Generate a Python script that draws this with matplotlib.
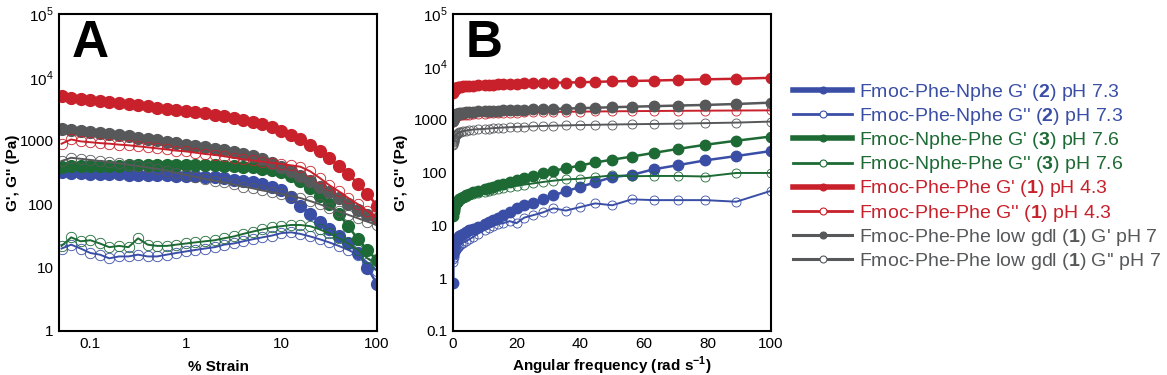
import matplotlib
matplotlib.use("Agg")
import matplotlib.pyplot as plt
from matplotlib.lines import Line2D

plt.rcParams['font.family'] = ['Liberation Sans', 'DejaVu Sans']
plt.rcParams['mathtext.fontset'] = 'custom'
plt.rcParams['mathtext.rm'] = 'Liberation Sans'
plt.rcParams['mathtext.bf'] = 'Liberation Sans:bold'

BLUE = '#3a4ea6'
GREEN = '#1d6a35'
RED = '#c8212b'
GRAY = '#57585a'

# ---- Panel A: strain sweep ----
strain = [0.05, 0.063, 0.079, 0.1, 0.126, 0.158, 0.2, 0.251, 0.316, 0.398,
          0.501, 0.631, 0.794, 1.0, 1.26, 1.58, 2.0, 2.51, 3.16, 3.98,
          5.01, 6.31, 7.94, 10.0, 12.6, 15.8, 20.0, 25.1, 31.6, 39.8,
          50.1, 63.1, 79.4, 100.0]

a_blue_gp = [320, 310, 305, 300, 300, 295, 295, 290, 290, 290,
             285, 285, 280, 280, 275, 270, 265, 255, 245, 235,
             225, 210, 190, 165, 130, 95, 70, 52, 40, 31,
             24, 17, 10, 5.5]
a_blue_gpp = [20, 23, 20, 17, 16, 14, 15, 15, 16, 15,
              15, 16, 17, 18, 19, 20, 21, 23, 24, 26,
              28, 30, 32, 35, 36, 34, 31, 28, 25, 22,
              19, 16, 12, 9]
a_green_gp = [390, 400, 400, 400, 405, 405, 405, 410, 410, 410,
              410, 410, 410, 410, 410, 410, 408, 405, 400, 392,
              380, 365, 345, 320, 280, 230, 180, 135, 100, 70,
              45, 28, 19, 13]
a_green_gpp = [22, 30, 26, 27, 24, 21, 22, 21, 29, 23,
               22, 22, 23, 24, 25, 26, 27, 29, 31, 34,
               37, 40, 43, 45, 47, 47, 45, 40, 35, 29,
               24, 19, 14, 11]
a_red_gp = [5000, 4800, 4600, 4400, 4250, 4100, 3950, 3800, 3650, 3500,
            3350, 3200, 3050, 2950, 2800, 2700, 2550, 2450, 2300, 2150,
            2000, 1850, 1650, 1450, 1250, 1050, 850, 680, 530, 400,
            300, 210, 145, 95]
a_red_gpp = [900, 1050, 980, 950, 920, 900, 870, 850, 820, 790,
             760, 730, 700, 680, 650, 620, 600, 570, 540, 510,
             490, 470, 450, 430, 410, 390, 330, 260, 200, 160,
             125, 100, 78, 60]
a_gray_gp = [1550, 1500, 1450, 1380, 1320, 1270, 1220, 1170, 1120, 1070,
             1020, 970, 920, 870, 830, 790, 750, 710, 670, 620,
             570, 510, 450, 390, 330, 280, 230, 190, 155, 125,
             100, 82, 68, 58]
a_gray_gpp = [480, 540, 520, 500, 480, 460, 440, 420, 400, 380,
              360, 340, 310, 290, 270, 250, 235, 220, 205, 190,
              178, 165, 155, 145, 135, 125, 112, 100, 88, 77,
              68, 60, 53, 47]

# ---- Panel B: frequency sweep ----
freq = [0.1, 0.126, 0.158, 0.2, 0.251, 0.316, 0.398, 0.501, 0.631, 0.794,
        1.0, 1.26, 1.58, 2.0, 2.51, 3.16, 3.98, 5.01, 6.31, 7.94,
        10.0, 11.2, 12.6, 14.1, 15.8, 17.8, 20.0, 22.4, 25.1, 28.2,
        31.6, 35.5, 39.8, 44.7, 50.1, 56.2, 63.1, 70.8, 79.4, 89.1, 100.0]

b_blue_gp = [0.8, 3.0, 4.0, 4.5, 4.8, 5.0, 5.2, 5.0, 4.8, 5.0,
             5.3, 5.5, 5.8, 6.2, 6.6, 7.0, 7.5, 8.0, 8.7, 9.5,
             10.5, 11.5, 12.5, 14, 16, 18, 21, 24, 27, 31,
             37, 44, 53, 65, 82, 90, 115, 138, 170, 205, 255]
b_blue_gpp = [2.0, 2.3, 2.5, 2.7, 2.9, 3.0, 3.1, 3.2, 3.3, 3.4,
              3.5, 3.7, 3.9, 4.1, 4.4, 4.7, 5.0, 5.4, 6.0, 7.0,
              8.2, 9.0, 9.8, 10.5, 11.0, 12.0, 11.0, 14.0, 15.5, 17.5,
              21, 19, 22, 26, 24, 31, 30, 30, 30, 28, 45]
b_green_gp = [15, 17, 19, 20, 21, 22, 23, 24, 25, 26,
              27, 28, 29, 31, 33, 35, 37, 39, 42, 45,
              48, 51, 54, 57, 60, 66, 72, 78, 86, 96,
              108, 120, 135, 155, 175, 200, 235, 280, 335, 400, 480]
b_green_gpp = [16, 18, 19, 20, 21, 22, 23, 24, 25, 26,
               27, 28, 29, 30, 32, 33, 35, 37, 39, 41,
               43, 45, 47, 49, 51, 54, 56, 59, 62, 66,
               70, 74, 76, 82, 88, 85, 86, 86, 84, 98, 98]
b_red_gp = [3200, 3400, 3500, 3600, 3700, 3750, 3800, 3850, 3900, 3950,
            4000, 4050, 4100, 4150, 4200, 4250, 4300, 4350, 4400, 4450,
            4500, 4550, 4600, 4650, 4700, 4750, 4800, 4850, 4900, 4950,
            5000, 5050, 5100, 5200, 5300, 5400, 5500, 5650, 5800, 5950, 6200]
b_red_gpp = [900, 950, 980, 1000, 1020, 1040, 1060, 1080, 1100, 1120,
             1140, 1160, 1180, 1200, 1210, 1220, 1240, 1250, 1260, 1280,
             1300, 1310, 1320, 1330, 1340, 1350, 1360, 1370, 1380, 1390,
             1400, 1410, 1420, 1430, 1440, 1450, 1460, 1470, 1480, 1490, 1500]
b_gray_gp = [950, 1000, 1050, 1080, 1110, 1140, 1170, 1200, 1220, 1240,
             1260, 1280, 1300, 1320, 1340, 1360, 1380, 1400, 1420, 1440,
             1450, 1460, 1470, 1480, 1500, 1510, 1520, 1540, 1560, 1580,
             1600, 1620, 1650, 1680, 1720, 1760, 1800, 1850, 1900, 1980, 2100]
b_gray_gpp = [330, 350, 370, 390, 410, 430, 450, 470, 490, 505,
              520, 540, 560, 575, 590, 605, 620, 635, 650, 660,
              670, 680, 690, 700, 710, 720, 730, 740, 750, 760,
              770, 780, 790, 800, 810, 820, 830, 840, 860, 880, 920]

labels = [
    r"Fmoc-Phe-Nphe G' ($\mathbf{2}$) pH 7.3",
    r"Fmoc-Phe-Nphe G'' ($\mathbf{2}$) pH 7.3",
    r"Fmoc-Nphe-Phe G' ($\mathbf{3}$) pH 7.6",
    r"Fmoc-Nphe-Phe G'' ($\mathbf{3}$) pH 7.6",
    r"Fmoc-Phe-Phe G' ($\mathbf{1}$) pH 4.3",
    r"Fmoc-Phe-Phe G'' ($\mathbf{1}$) pH 4.3",
    r"Fmoc-Phe-Phe low gdl ($\mathbf{1}$) G' pH 7",
    r"Fmoc-Phe-Phe low gdl ($\mathbf{1}$) G'' pH 7",
]
legend_colors = [BLUE, BLUE, GREEN, GREEN, RED, RED, GRAY, GRAY]
legend_filled = [True, False, True, False, True, False, True, False]
legend_lw = [4, 2, 4, 2, 4, 2, 2.2, 2.2]

fig = plt.figure(figsize=(11.67, 3.75), dpi=100)
axA = fig.add_axes([59 / 1167, 44 / 375, 318 / 1167, 317 / 375])
axB = fig.add_axes([453 / 1167, 44 / 375, 318 / 1167, 317 / 375])


def draw(ax, x, gp, gpp, color, ms_f, ms_o):
    ax.plot(x, gpp, color=color, lw=1.4, marker='o', ms=ms_o,
            mfc='none', mec=color, mew=0.6)
    ax.plot(x, gp, color=color, lw=1.8, marker='o', ms=ms_f,
            mfc=color, mec=color)


series_a = [(a_blue_gp, a_blue_gpp, BLUE), (a_green_gp, a_green_gpp, GREEN),
            (a_gray_gp, a_gray_gpp, GRAY), (a_red_gp, a_red_gpp, RED)]
for gp, gpp, c in series_a:
    draw(axA, strain, gp, gpp, c, 8.5, 7.5)

series_b = [(b_blue_gp, b_blue_gpp, BLUE), (b_green_gp, b_green_gpp, GREEN),
            (b_red_gp, b_red_gpp, RED), (b_gray_gp, b_gray_gpp, GRAY)]
for gp, gpp, c in series_b:
    draw(axB, freq, gp, gpp, c, 7.5, 6.5)

axA.set_xscale('log')
axA.set_yscale('log')
axA.set_xlim(0.047, 100)
axA.set_ylim(1, 1e5)
axA.set_xticks([0.1, 1, 10, 100])
axA.set_xticklabels(['0.1', '1', '10', '100'])
axA.set_yticks([1, 10, 100, 1000, 1e4, 1e5])
axA.set_yticklabels(['1', '10', '100', '1000', r'10$^4$', r'10$^5$'])
axA.set_xlabel('% Strain', fontsize=11, fontweight='bold', va='baseline')

axB.set_yscale('log')
axB.set_xlim(0, 100)
axB.set_ylim(0.1, 1e5)
axB.set_xticks([0, 20, 40, 60, 80, 100])
axB.set_yticks([0.1, 1, 10, 100, 1000, 1e4, 1e5])
axB.set_yticklabels(['0.1', '1', '10', '100', '1000', r'10$^4$', r'10$^5$'])
axB.set_xlabel(r'Angular frequency (rad s$^{\mathbf{-1}}$)', fontsize=11,
               fontweight='bold', va='baseline')

for ax, letter in [(axA, 'A'), (axB, 'B')]:
    ax.minorticks_off()
    ax.tick_params(length=0, labelsize=11, pad=4)
    for sp in ax.spines.values():
        sp.set_linewidth(1.5)
    ax.set_ylabel("G', G'' (Pa)", fontsize=11, fontweight='bold')
    ax.xaxis.set_label_coords(0.5, -0.126)
    ax.text(0.04, 0.865, letter, transform=ax.transAxes, fontsize=37,
            fontweight='bold', va='baseline', ha='left')

axA.yaxis.set_label_coords(-0.123, 0.5)
axB.yaxis.set_label_coords(-0.142, 0.5)

handles = []
for c, f, lw in zip(legend_colors, legend_filled, legend_lw):
    handles.append(Line2D([], [], color=c, lw=lw, marker='o', ms=5,
                          mfc=c if f else 'white', mec=c, mew=0.8))
leg = fig.legend(handles, labels, loc='upper left',
                 bbox_to_anchor=(793 / 1167, 1 - 82 / 375), frameon=False,
                 fontsize=14.0, handlelength=3.05, handletextpad=0.35,
                 labelspacing=0.16, borderaxespad=0, borderpad=0)
for t, c in zip(leg.get_texts(), legend_colors):
    t.set_color(c)

plt.savefig('out.png', dpi=100)
plt.close()
